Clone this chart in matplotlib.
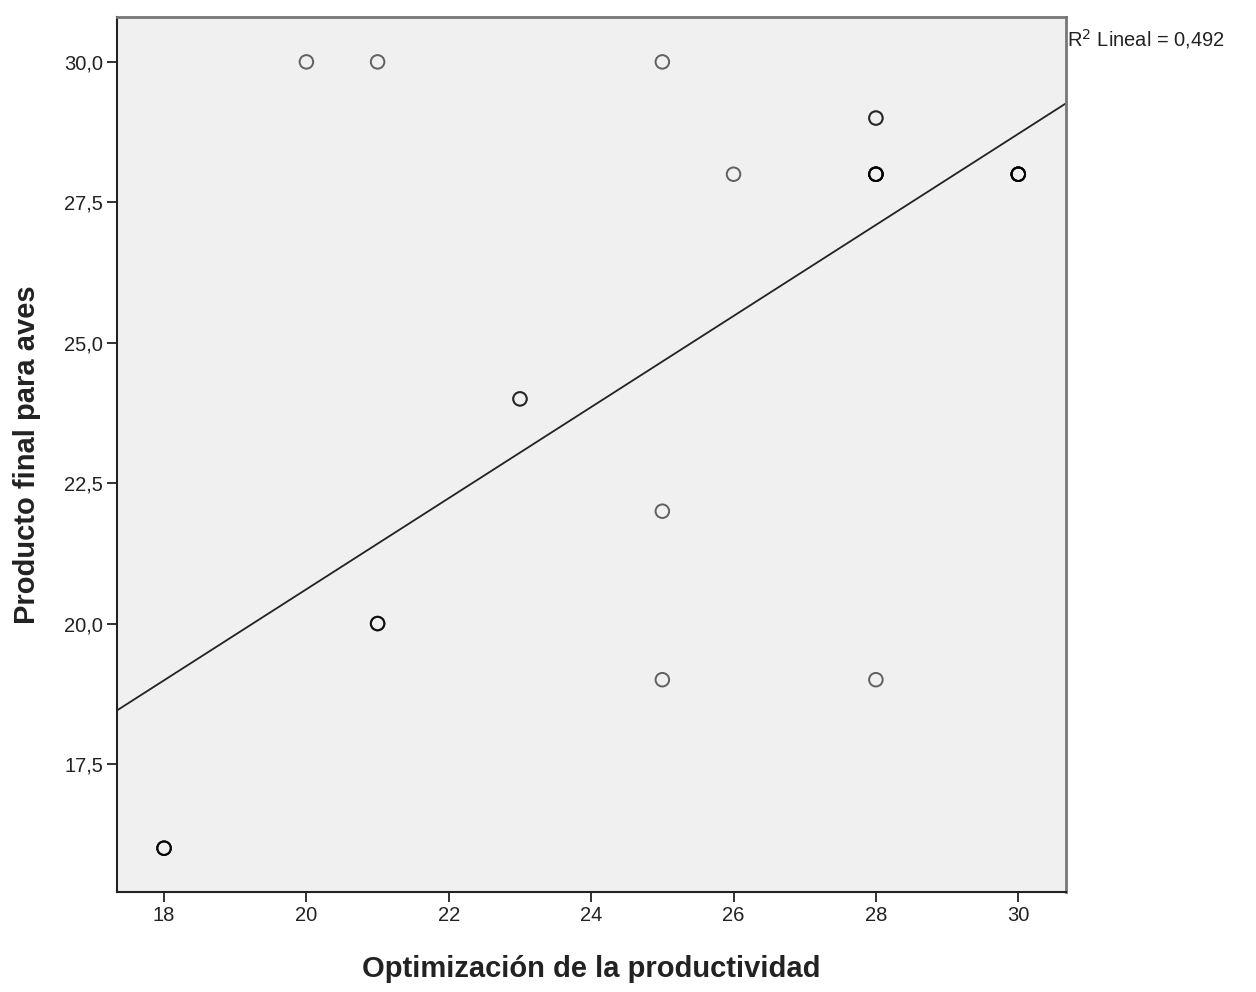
import matplotlib
matplotlib.use('Agg')
import matplotlib.pyplot as plt
import numpy as np

plt.rcParams['font.family'] = ['Liberation Sans', 'DejaVu Sans']

# distinct (x, y) pairs and how many cases fall on each
opt_x = [18, 20, 21, 25, 26, 28, 28, 30, 23, 25, 21, 25, 28]
prod_y = [16, 30, 30, 30, 28, 29, 28, 28, 24, 22, 20, 19, 19]
counts = [4, 1, 1, 1, 1, 2, 6, 6, 2, 1, 3, 1, 1]

x_ticks = [18, 20, 22, 24, 26, 28, 30]
y_ticks = [17.5, 20.0, 22.5, 25.0, 27.5, 30.0]

# expand to one row per case
x = np.repeat(opt_x, counts).astype(float)
y = np.repeat(prod_y, counts).astype(float)

slope, intercept = np.polyfit(x, y, 1)

fig = plt.figure(figsize=(12.56, 9.92), dpi=100)
ax = fig.add_axes([0.0932, 0.1008, 0.7555, 0.8821])
ax.set_facecolor('#f0f0f0')

xlim = (17.34, 30.67)
ylim = (15.22, 30.80)
ax.set_xlim(*xlim)
ax.set_ylim(*ylim)

# overlapping cases darken the circle outline
ax.scatter(x, y, s=95, facecolors='none', edgecolors=(0, 0, 0, 0.6),
           linewidths=1.4, zorder=3)

xs = np.array(xlim)
ax.plot(xs, intercept + slope * xs, color='#222222', lw=1.3, zorder=2)

ax.text(1.001, 0.975, 'R$^2$ Lineal = 0,492', transform=ax.transAxes,
        ha='left', va='center', fontsize=14.5, color='#222222')

ax.set_xticks(x_ticks)
ax.set_xticklabels([str(t) for t in x_ticks])
ax.set_yticks(y_ticks)
ax.set_yticklabels([f'{t:.1f}'.replace('.', ',') for t in y_ticks])
ax.tick_params(direction='out', length=7, width=1.3, labelsize=14.5,
               colors='#222222', pad=3)

for side in ['left', 'bottom']:
    ax.spines[side].set_color('#222222')
    ax.spines[side].set_linewidth(1.5)
for side in ['top', 'right']:
    ax.spines[side].set_color('#777777')
    ax.spines[side].set_linewidth(2)

ax.set_xlabel('Optimización de la productividad', fontsize=21,
              fontweight='bold', labelpad=22, color='#222222')
ax.set_ylabel('Producto final para aves', fontsize=21,
              fontweight='bold', labelpad=17, color='#222222')

fig.savefig('out.png', dpi=100)
